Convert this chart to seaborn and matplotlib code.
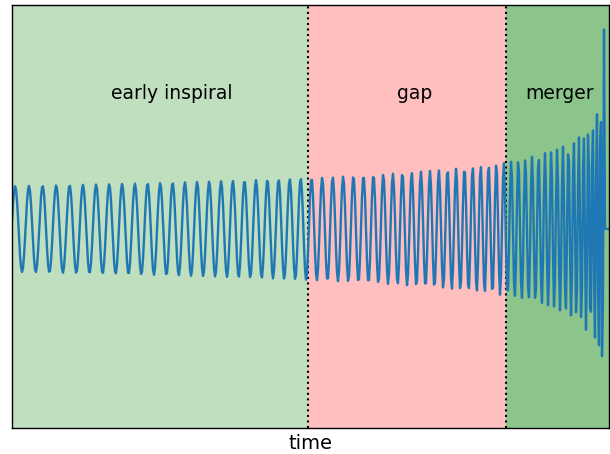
import numpy as np
import pandas as pd
import matplotlib
matplotlib.use("Agg")
import matplotlib.pyplot as plt
import seaborn as sns

# Region boundaries (pixel-time units) and labels
region_edges = [0, 296, 494, 597]
region_labels = ["early inspiral", "gap", "merger"]
region_colors = ["green", "red", "green"]
region_alphas = [0.25, 0.25, 0.45]
label_x = [160, 403, 548]
label_y = 3.16

# Chirp parameters (one sample per pixel)
n_samples = 598
t_coalesce = 606.0      # frequency: f^(-8/3) falls linearly to zero here
freq_slope = 1.838      # d(f^-8/3)/dt from measured periods
t_amp_peak = 593.2      # amplitude blow-up point
amp_ref = 1.0           # amplitude near the start
t_amp_ref = 10.0
phase0 = -1.42
t_end_zero = 593        # waveform drops back to zero after merger

t = np.arange(n_samples, dtype=float)
tau = t_coalesce - t
cycles = freq_slope ** (-3 / 8) * (8 / 5) * (tau[0] ** 0.625 - tau ** 0.625)
tau_a = np.clip(t_amp_peak - t, 1e-3, None)
amp = amp_ref * ((t_amp_peak - t_amp_ref) / tau_a) ** 0.25
strain = amp * np.cos(2 * np.pi * cycles + phase0)
strain[t >= t_end_zero] = 0.0

df = pd.DataFrame({"time": t, "strain": strain})

sns.set_style("white")
fig = plt.figure(figsize=(6.1, 4.54), dpi=100)
ax = fig.add_axes([12 / 610, 26 / 454, 597 / 610, 423 / 454])

for i, lab in enumerate(region_labels):
    ax.axvspan(region_edges[i], region_edges[i + 1], color=region_colors[i],
               alpha=region_alphas[i], lw=0)
    ax.text(label_x[i], label_y, lab, ha="center", va="center",
            fontsize=13.5, color="black")
for e in region_edges[1:-1]:
    ax.axvline(e, color="black", ls=":", lw=1.5)

sns.lineplot(data=df, x="time", y="strain", ax=ax, color="#1f77b4", lw=1.7)

ax.set_xlim(0, n_samples - 1)
ax.set_ylim(-4.63, 5.21)
ax.set_xticks([])
ax.set_yticks([])
ax.set_ylabel("")
ax.set_xlabel("time", fontsize=14, labelpad=4, color="black")
for s in ax.spines.values():
    s.set_color("black")
    s.set_linewidth(1.0)

fig.savefig("out.png", dpi=100)
